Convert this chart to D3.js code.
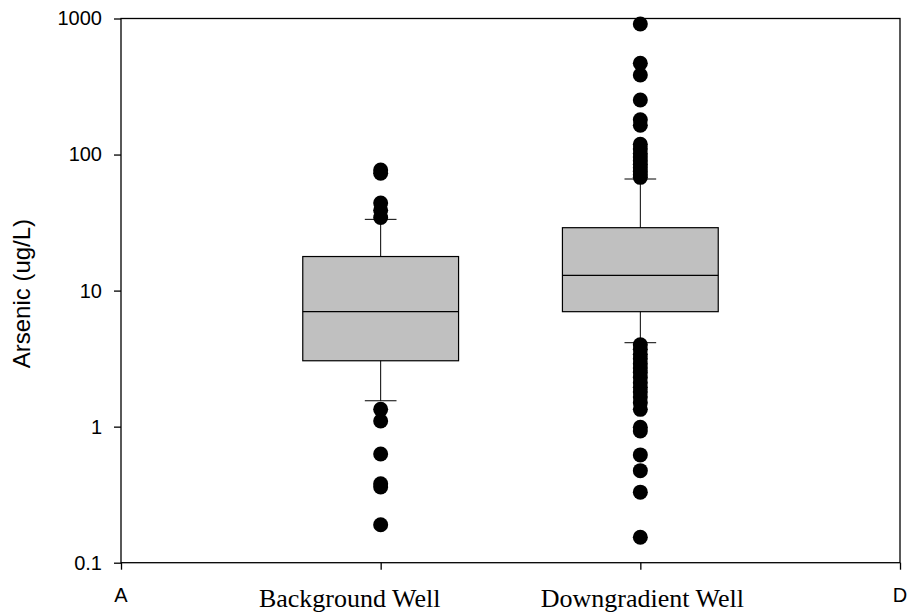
<!DOCTYPE html>
<html lang="en">
<head>
<meta charset="UTF-8">
<title>Arsenic box plot</title>
<style>
  body { margin: 0; background: #fff; }
  svg { display: block; }
</style>
</head>
<body>
<svg id="chart" width="909" height="615"></svg>
<script src="https://d3js.org/d3.v7.min.js"></script>
<script>
// categories and box statistics: [lower cap, q1, median, q3, upper cap]
var categories = ["Background Well", "Downgradient Well"];
var boxStats = [
  [1.55, 3.05, 7.0, 17.8, 33.4],
  [4.14, 7.0, 12.95, 29.0, 66.1]
];
// outliers
var bgOutliers = [77, 73, 44, 39, 34.5, 1.34, 1.10, 0.63, 0.38, 0.36, 0.19];
var dgOutliers = [911, 469, 384, 252, 180, 164, 119, 110, 102, 96, 90, 85, 80, 75, 71, 68,
  4.0, 3.7, 3.4, 3.15, 2.9, 2.7, 2.5, 2.3, 2.1, 1.95, 1.8, 1.65, 1.5, 1.34,
  0.99, 0.93, 0.62, 0.475, 0.33, 0.154];
var outliers = [bgOutliers, dgOutliers];
var yTicks = [0.1, 1, 10, 100, 1000];
var yLabel = "Arsenic (ug/L)";

var svg = d3.select("#chart");
// plot box edges (named so they don't clash with window.top)
var pLeft = 121, pRight = 900, pTop = 18.5, pBottom = 562.7;

var x = d3.scaleLinear().domain([0, 3]).range([pLeft, pRight]);
var y = d3.scaleLog().domain([0.1, 1000]).range([pBottom, pTop]);

// frame
svg.append("rect")
  .attr("x", pLeft).attr("y", pTop)
  .attr("width", pRight - pLeft).attr("height", pBottom - pTop)
  .attr("fill", "none").attr("stroke", "#000").attr("stroke-width", 1.3);

// y axis
var yAxis = svg.append("g")
  .attr("transform", "translate(" + pLeft + ",0)")
  .call(d3.axisLeft(y).tickValues(yTicks).tickSize(7).tickPadding(12)
    .tickFormat(function(d) { return String(d); }));
yAxis.select(".domain").remove();
yAxis.selectAll("line").attr("stroke-width", 1.3);
yAxis.selectAll("text")
  .attr("font-family", "Liberation Sans, Arial, sans-serif")
  .attr("font-size", 20).attr("fill", "#000");

// x axis ticks (A and D at the ends)
var xAxis = svg.append("g")
  .attr("transform", "translate(0," + pBottom + ")")
  .call(d3.axisBottom(x).tickValues([0, 1, 2, 3]).tickSize(7).tickFormat(""));
xAxis.select(".domain").remove();
xAxis.selectAll("line").attr("stroke-width", 1.3);

svg.selectAll(".endlabel")
  .data([[0, "A"], [3, "D"]])
  .enter().append("text")
  .attr("x", function(d) { return x(d[0]); })
  .attr("y", 601.5)
  .attr("text-anchor", "middle")
  .attr("font-family", "Liberation Sans, Arial, sans-serif")
  .attr("font-size", 20)
  .text(function(d) { return d[1]; });

var labelShift = [-31, 2];
svg.selectAll(".catlabel")
  .data(categories)
  .enter().append("text")
  .attr("x", function(d, i) { return x(i + 1) + labelShift[i]; })
  .attr("y", 607)
  .attr("text-anchor", "middle")
  .attr("font-family", "Liberation Serif, Times New Roman, serif")
  .attr("font-size", 26)
  .text(function(d) { return d; });

// y label
svg.append("text")
  .attr("transform", "translate(30," + ((pTop + pBottom) / 2 + 3) + ") rotate(-90)")
  .attr("text-anchor", "middle")
  .attr("font-family", "Liberation Sans, Arial, sans-serif")
  .attr("font-size", 24)
  .text(yLabel);

// boxes
var halfW = 0.3, capW = 0.061;
var boxes = svg.selectAll(".box")
  .data(boxStats)
  .enter().append("g");

boxes.append("line")
  .attr("x1", function(d, i) { return x(i + 1); })
  .attr("x2", function(d, i) { return x(i + 1); })
  .attr("y1", function(d) { return y(d[0]); })
  .attr("y2", function(d) { return y(d[4]); })
  .attr("stroke", "#000").attr("stroke-width", 1);

boxes.selectAll(".cap")
  .data(function(d, i) { return [[i, d[0]], [i, d[4]]]; })
  .enter().append("line")
  .attr("x1", function(d) { return x(d[0] + 1 - capW); })
  .attr("x2", function(d) { return x(d[0] + 1 + capW); })
  .attr("y1", function(d) { return y(d[1]); })
  .attr("y2", function(d) { return y(d[1]); })
  .attr("stroke", "#000").attr("stroke-width", 1);

boxes.append("rect")
  .attr("x", function(d, i) { return x(i + 1 - halfW); })
  .attr("width", x(halfW * 2) - x(0))
  .attr("y", function(d) { return y(d[3]); })
  .attr("height", function(d) { return y(d[1]) - y(d[3]); })
  .attr("fill", "#c0c0c0").attr("stroke", "#000").attr("stroke-width", 1.2);

boxes.append("line")
  .attr("x1", function(d, i) { return x(i + 1 - halfW); })
  .attr("x2", function(d, i) { return x(i + 1 + halfW); })
  .attr("y1", function(d) { return y(d[2]); })
  .attr("y2", function(d) { return y(d[2]); })
  .attr("stroke", "#000").attr("stroke-width", 1.2);

// outlier dots
outliers.forEach(function(list, i) {
  svg.selectAll(".dot" + i)
    .data(list)
    .enter().append("circle")
    .attr("cx", x(i + 1))
    .attr("cy", function(d) { return y(d); })
    .attr("r", 7.5)
    .attr("fill", "#000");
});
</script>
</body>
</html>
